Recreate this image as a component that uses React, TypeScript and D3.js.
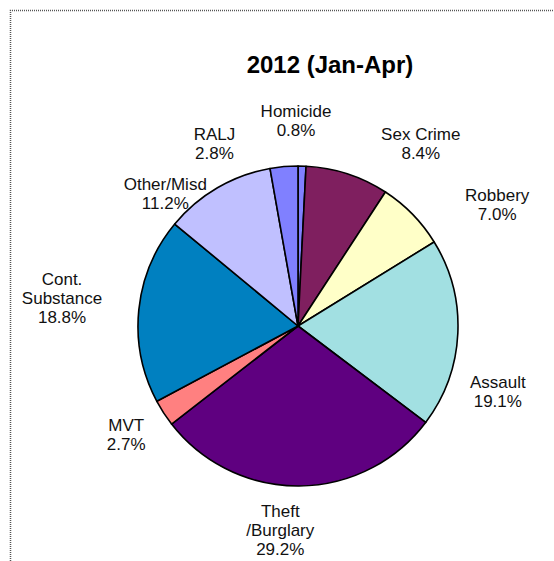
import * as d3 from 'd3'
import { useEffect, useRef } from 'react'

const categories = [
    'Homicide',
    'Sex Crime',
    'Robbery',
    'Assault',
    'Theft\n/Burglary',
    'MVT',
    'Cont.\nSubstance',
    'Other/Misd',
    'RALJ',
]
const percents = [0.8, 8.4, 7.0, 19.1, 29.2, 2.7, 18.8, 11.2, 2.8]
const sliceColors = [
    '#8080ff',
    '#7f1f5f',
    '#ffffc8',
    '#a2e0e2',
    '#5f0080',
    '#ff8080',
    '#0080c0',
    '#c0c0ff',
    '#8080ff',
]
const title = '2012 (Jan-Apr)'

// manual label nudges (Excel-style hand placed labels)
const labelNudge: [number, number][] = [
    [-7, -6],
    [61, 8],
    [56, 18],
    [0, 56],
    [-19, 4],
    [-4, 0],
    [-37, -8],
    [-32, 40],
    [-66, 17],
]

interface Slice {
    name: string
    value: number
    color: string
}

export default function App() {
    const svgRef = useRef<SVGSVGElement>(null)
    const width = 554
    const height = 561

    useEffect(() => {
        if (!svgRef.current) return
        const svg = d3.select(svgRef.current)
        svg.selectAll('*').remove()

        const data: Slice[] = categories.map((c, i) => ({
            name: c,
            value: percents[i],
            color: sliceColors[i],
        }))

        const cx = 298
        const cy = 326
        const radius = 160

        // frame (cropped chart border)
        svg.append('path')
            .attr('d', `M10.5,${height} L10.5,10.5 L${width},10.5`)
            .attr('fill', 'none')
            .attr('stroke', '#555')
            .attr('stroke-width', 1.5)
            .attr('stroke-dasharray', '1,1')

        svg.append('text')
            .attr('x', 330)
            .attr('y', 73)
            .attr('text-anchor', 'middle')
            .style('font-family', '"Liberation Sans", Arial, sans-serif')
            .style('font-size', '24px')
            .style('font-weight', 'bold')
            .text(title)

        const pie = d3
            .pie<Slice>()
            .sort(null)
            .value((d) => d.value)
        const arcs = pie(data)

        const arc = d3.arc<d3.PieArcDatum<Slice>>().innerRadius(0).outerRadius(radius)
        const labelArc = d3
            .arc<d3.PieArcDatum<Slice>>()
            .innerRadius(200)
            .outerRadius(200)

        const g = svg.append('g').attr('transform', `translate(${cx},${cy})`)

        g.selectAll('.slice')
            .data(arcs)
            .enter()
            .append('path')
            .attr('class', 'slice')
            .attr('d', arc)
            .attr('fill', (d) => d.data.color)
            .attr('stroke', '#000')
            .attr('stroke-width', 1.6)
            .attr('stroke-linejoin', 'round')

        const lineHeight = 19
        const labels = g
            .selectAll('.label')
            .data(arcs)
            .enter()
            .append('text')
            .attr('class', 'label')
            .attr('text-anchor', 'middle')
            .style('font-family', '"Liberation Sans", Arial, sans-serif')
            .style('font-size', '17px')
            .attr('fill', '#111')

        labels.each(function (d, i) {
            const [lx, ly] = labelArc.centroid(d)
            const x = lx + labelNudge[i][0]
            const y = ly + labelNudge[i][1]
            const lines = [...d.data.name.split('\n'), `${d.data.value.toFixed(1)}%`]
            const n = lines.length
            const t = d3.select(this)
            lines.forEach((line, k) => {
                t.append('tspan')
                    .attr('x', x)
                    .attr('y', y + (k - (n - 1) / 2) * lineHeight + 6)
                    .text(line)
            })
        })
    }, [])

    return (
        <svg
            ref={svgRef}
            width={width}
            height={height}
            style={{ position: 'absolute', left: 0, top: 0, background: '#fff' }}
        />
    )
}
